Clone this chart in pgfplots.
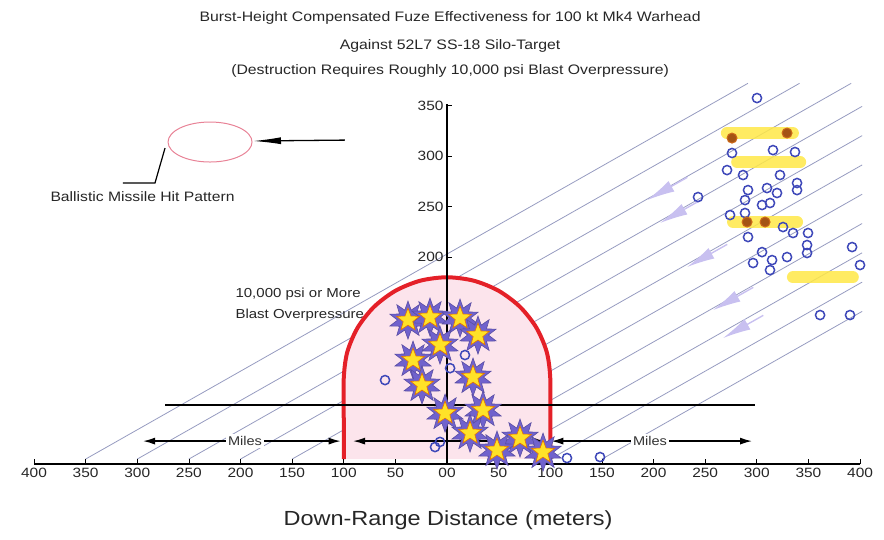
\documentclass[border=0pt]{standalone}
\usepackage{fontspec}
\setmainfont{Liberation Sans}[FakeStretch=1.15]
\usepackage{pgfplots}
\pgfplotsset{compat=1.18}
\usetikzlibrary{arrows.meta}

\definecolor{traj}{RGB}{150,155,192}
\definecolor{lav}{RGB}{200,192,240}
\definecolor{domefill}{RGB}{252,228,236}
\definecolor{domered}{RGB}{228,32,40}
\definecolor{burstc}{RGB}{112,98,205}
\definecolor{staryel}{RGB}{255,226,40}
\definecolor{circ}{RGB}{62,72,185}
\definecolor{baryel}{RGB}{255,232,70}
\definecolor{orng}{RGB}{205,105,25}
\definecolor{ellp}{RGB}{232,130,150}

\pgfdeclareplotmark{burst}{%
  \pgfpathmoveto{\pgfpointpolar{90}{\pgfplotmarksize}}%
  \pgfpathlineto{\pgfpointpolar{108}{0.55\pgfplotmarksize}}%
  \pgfpathlineto{\pgfpointpolar{126}{\pgfplotmarksize}}%
  \pgfpathlineto{\pgfpointpolar{144}{0.55\pgfplotmarksize}}%
  \pgfpathlineto{\pgfpointpolar{162}{\pgfplotmarksize}}%
  \pgfpathlineto{\pgfpointpolar{180}{0.55\pgfplotmarksize}}%
  \pgfpathlineto{\pgfpointpolar{198}{\pgfplotmarksize}}%
  \pgfpathlineto{\pgfpointpolar{216}{0.55\pgfplotmarksize}}%
  \pgfpathlineto{\pgfpointpolar{234}{\pgfplotmarksize}}%
  \pgfpathlineto{\pgfpointpolar{252}{0.55\pgfplotmarksize}}%
  \pgfpathlineto{\pgfpointpolar{270}{\pgfplotmarksize}}%
  \pgfpathlineto{\pgfpointpolar{288}{0.55\pgfplotmarksize}}%
  \pgfpathlineto{\pgfpointpolar{306}{\pgfplotmarksize}}%
  \pgfpathlineto{\pgfpointpolar{324}{0.55\pgfplotmarksize}}%
  \pgfpathlineto{\pgfpointpolar{342}{\pgfplotmarksize}}%
  \pgfpathlineto{\pgfpointpolar{0}{0.55\pgfplotmarksize}}%
  \pgfpathlineto{\pgfpointpolar{18}{\pgfplotmarksize}}%
  \pgfpathlineto{\pgfpointpolar{36}{0.55\pgfplotmarksize}}%
  \pgfpathlineto{\pgfpointpolar{54}{\pgfplotmarksize}}%
  \pgfpathlineto{\pgfpointpolar{72}{0.55\pgfplotmarksize}}%
  \pgfpathclose
  \pgfusepathqfillstroke
}
\pgfdeclareplotmark{fstar}{%
  \pgfpathmoveto{\pgfpointpolar{90}{\pgfplotmarksize}}%
  \pgfpathlineto{\pgfpointpolar{126}{0.42\pgfplotmarksize}}%
  \pgfpathlineto{\pgfpointpolar{162}{\pgfplotmarksize}}%
  \pgfpathlineto{\pgfpointpolar{198}{0.42\pgfplotmarksize}}%
  \pgfpathlineto{\pgfpointpolar{234}{\pgfplotmarksize}}%
  \pgfpathlineto{\pgfpointpolar{270}{0.42\pgfplotmarksize}}%
  \pgfpathlineto{\pgfpointpolar{306}{\pgfplotmarksize}}%
  \pgfpathlineto{\pgfpointpolar{342}{0.42\pgfplotmarksize}}%
  \pgfpathlineto{\pgfpointpolar{18}{\pgfplotmarksize}}%
  \pgfpathlineto{\pgfpointpolar{54}{0.42\pgfplotmarksize}}%
  \pgfpathclose
  \pgfusepathqfillstroke
}

% bursts inside the lethal zone
\pgfplotstableread{
x y
-37.8 137.6
-16.5 140.6
12.6 139.6
30.0 122.8
-6.8 112.9
-32.9 98.0
25.2 81.2
-24.2 73.3
-1.9 45.5
34.9 48.5
22.3 25.7
70.7 20.8
48.4 8.9
93.0 6.9
}\stars

% misses / hits outside
\pgfplotstableread{
x y
300.2 357.4
315.7 305.9
337.0 304.0
276.0 303.0
271.2 286.1
286.7 281.2
322.5 281.2
339.0 273.3
339.0 266.3
243.1 259.4
291.5 266.3
309.9 268.3
319.6 263.4
288.6 256.4
305.1 251.5
312.8 253.5
274.1 241.6
288.6 243.6
325.4 229.7
335.1 223.8
349.6 223.8
291.5 219.8
348.7 211.9
348.7 204.0
392.3 209.9
305.1 204.9
329.3 200.0
296.4 194.1
314.8 197.0
312.8 187.1
400.0 192.1
361.3 142.6
390.3 142.6
116.2 1.0
148.2 2.0
-60.0 78.2
17.4 103.0
3.0 90.0
-11.6 11.9
-6.8 17.0
}\circles

\begin{document}
\begin{tikzpicture}
\begin{axis}[
  x=1.0325bp, y=1.01bp,
  xmin=-400, xmax=400, ymin=-5, ymax=352,
  axis x line=bottom, axis y line=middle,
  axis line style={-, black, line width=1.4bp},
  axis on top,
  clip=false,
  hide obscured x ticks=false,
  xtick={-400,-350,-300,-250,-200,-150,-100,-50,0,50,100,150,200,250,300,350,400},
  xticklabels={400,350,300,250,200,150,100,50,00,50,100,150,200,250,300,350,400},
  ytick={200,250,300,350},
  yticklabels={200,250,300,350},
  tick align=inside,
  major tick length=5bp,
  tick style={black, line width=0.7bp},
  ticklabel style={font=\fontsize{13.5}{15}\selectfont, text=black!85},
  /pgf/number format/assume math mode=true,
]
% bounding frame of the page
\coordinate (bbBL) at (axis cs:-432.9,-79.2);
\coordinate (bbTR) at (axis cs:423.2,454.5);

% trajectories
\addplot[traj, line width=0.8bp] coordinates {(-350,0) (291.4,372)};
\addplot[traj, line width=0.8bp] coordinates {(-300,0) (341.4,372)};
\addplot[traj, line width=0.8bp] coordinates {(-250,0) (391.4,372)};
\addplot[traj, line width=0.8bp] coordinates {(-200,0) (402,349.2)};
\addplot[traj, line width=0.8bp] coordinates {(-150,0) (402,320.2)};
\addplot[traj, line width=0.8bp] coordinates {(-100,0) (402,291.2)};
\addplot[traj, line width=0.8bp] coordinates {(-50,0) (402,262.2)};
\addplot[traj, line width=0.8bp] coordinates {(0,0) (402,233.2)};
\addplot[traj, line width=0.8bp] coordinates {(50,0) (402,204.2)};
\addplot[traj, line width=0.8bp] coordinates {(100,0) (402,175.2)};
\addplot[traj, line width=0.8bp] coordinates {(150,0) (402,146.2)};

% incoming arrows
\draw[-{Latex[length=28bp,width=12bp]}, lav, line width=1.4bp] (axis cs:232.7,278.9) -- (axis cs:193.7,256.4);
\draw[-{Latex[length=28bp,width=12bp]}, lav, line width=1.4bp] (axis cs:245.3,256.2) -- (axis cs:206.3,233.7);
\draw[-{Latex[length=28bp,width=12bp]}, lav, line width=1.4bp] (axis cs:271.4,212.6) -- (axis cs:232.4,190.1);
\draw[-{Latex[length=28bp,width=12bp]}, lav, line width=1.4bp] (axis cs:296.6,170.0) -- (axis cs:257.6,147.5);
\draw[-{Latex[length=28bp,width=12bp]}, lav, line width=1.4bp] (axis cs:306.3,142.3) -- (axis cs:267.3,119.8);

% text beside the zone
\node[anchor=west, font=\fontsize{13.1}{15}\selectfont, text=black!85] at (axis cs:-208.2,163.5) {10,000 psi or More};
\node[anchor=west, font=\fontsize{13.1}{15}\selectfont, text=black!85] at (axis cs:-208.2,143.0) {Blast Overpressure};

% 10,000 psi zone
\addplot[fill=domefill, draw=none, smooth] coordinates {
 (-100,0) (-100,40) (-100,80) (-96.6,105.9) (-86.6,130) (-70.7,150.7) (-50,166.6) (-25.9,176.6)
 (0,180) (25.9,176.6) (50,166.6) (70.7,150.7) (86.6,130) (96.6,105.9) (100,80) (100,40) (100,0)} \closedcycle;
\addplot[domered, line width=4bp, smooth] coordinates {
 (-100,0) (-100,40) (-100,80) (-96.6,105.9) (-86.6,130) (-70.7,150.7) (-50,166.6) (-25.9,176.6)
 (0,180) (25.9,176.6) (50,166.6) (70.7,150.7) (86.6,130) (96.6,105.9) (100,80) (100,40) (100,0)};

% reference lines
\addplot[black, line width=1.5bp] coordinates {(-273,53.5) (298.3,53.5)};
\draw[{Latex[length=12bp,width=7bp]}-{Latex[length=12bp,width=7bp]}, black, line width=1.4bp] (axis cs:-294.4,17.8) -- (axis cs:-103,17.8);
\draw[-{Latex[length=12bp,width=7bp]}, black, line width=1.4bp] (axis cs:0,17.8) -- (axis cs:-91,17.8);
\draw[-{Latex[length=12bp,width=7bp]}, black, line width=1.4bp] (axis cs:0,17.8) -- (axis cs:95,17.8);
\draw[{Latex[length=12bp,width=7bp]}-{Latex[length=12bp,width=7bp]}, black, line width=1.4bp] (axis cs:101,17.8) -- (axis cs:295.4,17.8);
\node[fill=white, inner sep=2bp, font=\fontsize{12.7}{14}\selectfont, text=black!80] at (axis cs:-195.6,17.8) {Miles};
\node[fill=white, inner sep=2bp, font=\fontsize{12.7}{14}\selectfont, text=black!80] at (axis cs:196.6,17.8) {Miles};

% highlighted hits
\addplot[baryel, opacity=0.85, line width=12bp, line cap=round] coordinates {(271,322.8) (335,322.8)};
\addplot[baryel, opacity=0.85, line width=12bp, line cap=round] coordinates {(281,294) (342,294)};
\addplot[baryel, opacity=0.85, line width=12bp, line cap=round] coordinates {(277,234.7) (339,234.7)};
\addplot[baryel, opacity=0.85, line width=12bp, line cap=round] coordinates {(335,180) (393,180)};

\addplot[only marks, mark=o, mark size=4.6bp, circ, line width=1.5bp] table {\circles};
\addplot[only marks, mark=*, mark size=5bp, draw=orng, fill=orng!80!black, line width=1bp] coordinates {(276.0,317.8) (329.3,322.8) (290.6,234.7) (308.0,234.7)};

% bursts
\addplot[only marks, mark=burst, mark size=19bp, mark options={fill=burstc, draw=burstc!80!black, line width=0.6bp}] table {\stars};
\addplot[only marks, mark=fstar, mark size=12bp, mark options={fill=staryel, draw=orange!90!black, line width=0.6bp}] table {\stars};

% hit pattern sketch
\draw[ellp, line width=1bp] (axis cs:-229.5,313.9) ellipse [x radius=42bp, y radius=20bp];
\draw[-{Latex[length=28bp,width=7bp]}, black, line width=1.3bp] (axis cs:-98.8,315.8) -- (axis cs:-187.9,314.9);
\draw[black, line width=1.2bp] (axis cs:-273.1,307.9) -- (axis cs:-282.8,273.3) -- (axis cs:-313.8,273.3);
\node[anchor=west, font=\fontsize{13.7}{15}\selectfont, text=black!85] at (axis cs:-387.4,259.4) {Ballistic Missile Hit Pattern};

% titles
\node[font=\fontsize{13.8}{16}\selectfont, text=black!85] at (axis cs:3,436.6) {Burst-Height Compensated Fuze Effectiveness for 100 kt Mk4 Warhead};
\node[font=\fontsize{13.8}{16}\selectfont, text=black!85] at (axis cs:3,408.9) {Against 52L7 SS-18 Silo-Target};
\node[font=\fontsize{13.8}{16}\selectfont, text=black!85] at (axis cs:3,384.2) {(Destruction Requires Roughly 10,000 psi Blast Overpressure)};
\node[font=\fontsize{20.5}{24}\selectfont, text=black!85] at (axis cs:1,-60.4) {Down-Range Distance (meters)};
\end{axis}
\pgfresetboundingbox
\path[use as bounding box] (bbBL) rectangle (bbTR);
\end{tikzpicture}
\end{document}
